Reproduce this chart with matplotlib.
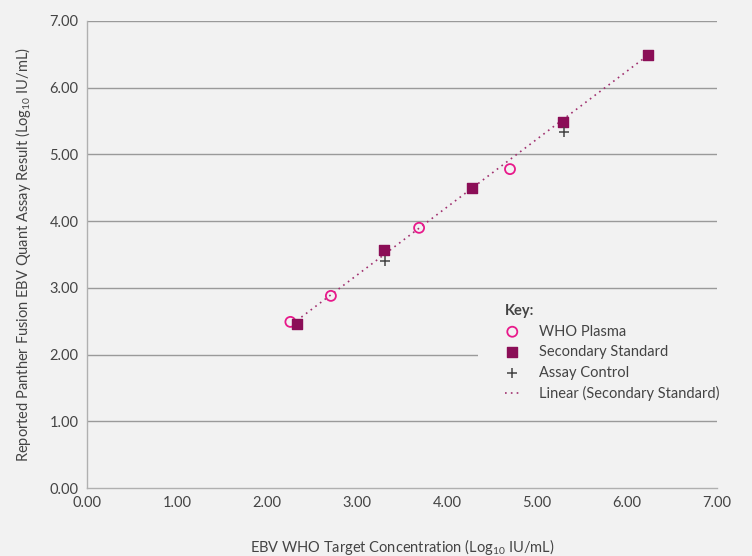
import numpy as np
import matplotlib
matplotlib.use("Agg")
import matplotlib.pyplot as plt
from matplotlib.patches import Rectangle

plt.rcParams['font.family'] = ['Lato', 'DejaVu Sans']
plt.rcParams['mathtext.fontset'] = 'custom'
plt.rcParams['mathtext.rm'] = 'Lato'
plt.rcParams['mathtext.it'] = 'Lato'

who_x = [2.26, 2.71, 3.69, 4.70]
who_y = [2.49, 2.88, 3.90, 4.78]
sec_x = [2.33, 3.30, 4.28, 5.29, 6.23]
sec_y = [2.46, 3.57, 4.50, 5.49, 6.49]
ctl_x = [3.31, 5.30]
ctl_y = [3.40, 5.34]
ticks = [0, 1, 2, 3, 4, 5, 6, 7]
tick_labels = ["0.00", "1.00", "2.00", "3.00", "4.00", "5.00", "6.00", "7.00"]

bg = "#f2f2f2"
txt = "#444444"
W, H = 752, 556
fig = plt.figure(figsize=(7.52, 5.56), dpi=100, facecolor=bg)
ax = fig.add_axes([87 / W, 1 - 488 / H, 630 / W, 467 / H], facecolor=bg)

for t in ticks[1:]:
    ax.axhline(t, color="#9a9a9a", lw=1.0, zorder=1)

# background block behind the key that hides the gridlines
ax.add_patch(Rectangle((4.34, 1.18), 2.66, 1.68, facecolor=bg, edgecolor="none",
                       zorder=1.5, clip_on=False))

coef = np.polyfit(sec_x, sec_y, 1)
fx = np.array([min(sec_x), max(sec_x)])
ax.plot(fx, np.polyval(coef, fx), linestyle=(0, (1, 2.5)), color="#a0306f", lw=1.2,
        zorder=2, label="Linear (Secondary Standard)")

ax.scatter(who_x, who_y, s=52, facecolors="none", edgecolors="#e8198b", linewidths=1.3,
           zorder=3, label="WHO Plasma")
ax.scatter(sec_x, sec_y, s=58, marker="s", color="#8b0e57", zorder=4,
           label="Secondary Standard")
ax.scatter(ctl_x, ctl_y, s=58, marker="+", color="#444444", linewidths=1.1, zorder=5,
           label="Assay Control")

ax.set_xlim(0, 7)
ax.set_ylim(0, 7)
ax.set_xticks(ticks)
ax.set_xticklabels(tick_labels)
ax.set_yticks(ticks)
ax.set_yticklabels(tick_labels)
ax.tick_params(length=0, labelsize=10.5, labelcolor=txt, pad=6)
for s in ["top", "right"]:
    ax.spines[s].set_visible(False)
for s in ["left", "bottom"]:
    ax.spines[s].set_color("#b0b0b0")
    ax.spines[s].set_linewidth(1.0)

fig.text(402 / W, 1 - 547 / H, "EBV WHO Target Concentration (Log$_{10}$ IU/mL)",
         fontsize=10.5, color=txt, ha="center", va="center")
ax.set_ylabel("Reported Panther Fusion EBV Quant Assay Result (Log$_{10}$ IU/mL)",
              fontsize=10.5, color=txt, labelpad=12)

handles, labels = ax.get_legend_handles_labels()
order = [1, 2, 3, 0]
leg = ax.legend([handles[i] for i in order], [labels[i] for i in order],
                title="Key:", loc="upper left",
                bbox_to_anchor=(505 / W, 1 - 304 / H), bbox_transform=fig.transFigure,
                frameon=False, borderaxespad=0, borderpad=0,
                fontsize=10.5, title_fontsize=10.5, alignment="left",
                handlelength=1.0, handletextpad=1.3, labelspacing=0.45)
leg.get_title().set_fontweight("bold")
leg.get_title().set_color(txt)
for t in leg.get_texts():
    t.set_color(txt)
leg.set_zorder(6)

fig.savefig("out.png", dpi=100, facecolor=bg)
